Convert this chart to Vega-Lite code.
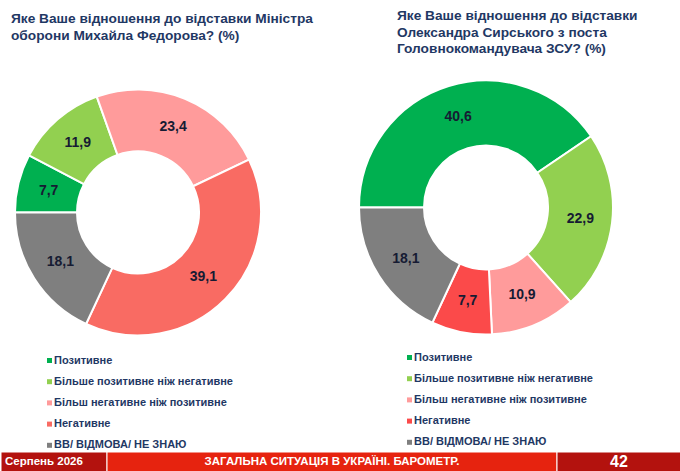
{
  "$schema": "https://vega.github.io/schema/vega-lite/v6.json",
  "padding": {"top": 9, "left": 0, "right": 0, "bottom": 0},
  "background": "white",
  "datasets": {
    "fedorov": [
      {"category": "Позитивне", "value": 7.7, "order": 1},
      {"category": "Більше позитивне ніж негативне", "value": 11.9, "order": 2},
      {"category": "Більш негативне ніж позитивне", "value": 23.4, "order": 3},
      {"category": "Негативне", "value": 39.1, "order": 4},
      {"category": "ВВ/ ВІДМОВА/ НЕ ЗНАЮ", "value": 18.1, "order": 5}
    ],
    "syrskyi": [
      {"category": "Позитивне", "value": 40.6, "order": 1},
      {"category": "Більше позитивне ніж негативне", "value": 22.9, "order": 2},
      {"category": "Більш негативне ніж позитивне", "value": 10.9, "order": 3},
      {"category": "Негативне", "value": 7.7, "order": 4},
      {"category": "ВВ/ ВІДМОВА/ НЕ ЗНАЮ", "value": 18.1, "order": 5}
    ],
    "footer": [
      {"part": "date", "label": "Серпень 2026", "w": 106, "order": 1},
      {"part": "topic", "label": "ЗАГАЛЬНА СИТУАЦІЯ В УКРАЇНІ. БАРОМЕТР.", "w": 450, "order": 2},
      {"part": "page", "label": "42", "w": 124, "order": 3}
    ]
  },
  "vconcat": [
    {
      "hconcat": [
        {
          "title": {
            "text": ["Яке Ваше відношення до відставки Міністра", "оборони Михайла Федорова? (%)"],
            "anchor": "start", "dx": 10, "offset": 18.5
          },
          "width": 274,
          "height": 303,
          "data": {"name": "fedorov"},
          "encoding": {
            "theta": {"field": "value", "type": "quantitative", "stack": true, "scale": {"range": [-1.5708, 4.7124]}},
            "order": {"field": "order", "type": "quantitative"}
          },
          "layer": [
            {
              "mark": {"type": "arc", "innerRadius": 61, "outerRadius": 123, "stroke": "white", "strokeWidth": 2},
              "encoding": {
                "color": {
                  "field": "category", "type": "nominal",
                  "scale": {
                    "domain": ["Позитивне", "Більше позитивне ніж негативне", "Більш негативне ніж позитивне", "Негативне", "ВВ/ ВІДМОВА/ НЕ ЗНАЮ"],
                    "range": ["#00b050", "#92d050", "#ff9b9b", "#f96b63", "#7f7f7f"]
                  },
                  "legend": {"orient": "none", "legendX": 43, "legendY": 294}
                }
              }
            },
            {
              "mark": {"type": "text", "radius": 92, "fontSize": 14, "fontWeight": "bold", "color": "#161b33"},
              "encoding": {"text": {"field": "value", "type": "quantitative", "format": ".1f"}}
            }
          ]
        },
        {
          "title": {
            "text": ["Яке Ваше відношення до відставки", "Олександра Сирського з поста", "Головнокомандувача ЗСУ? (%)"],
            "anchor": "start", "dx": 42, "offset": 5
          },
          "width": 260,
          "height": 293,
          "data": {"name": "syrskyi"},
          "encoding": {
            "theta": {"field": "value", "type": "quantitative", "stack": true, "scale": {"range": [-1.5708, 4.7124]}},
            "order": {"field": "order", "type": "quantitative"}
          },
          "layer": [
            {
              "mark": {"type": "arc", "innerRadius": 62, "outerRadius": 127, "stroke": "white", "strokeWidth": 2},
              "encoding": {
                "color": {
                  "field": "category", "type": "nominal",
                  "scale": {
                    "domain": ["Позитивне", "Більше позитивне ніж негативне", "Більш негативне ніж позитивне", "Негативне", "ВВ/ ВІДМОВА/ НЕ ЗНАЮ"],
                    "range": ["#00b050", "#92d050", "#ff9b9b", "#fb4a4a", "#7f7f7f"]
                  },
                  "legend": {"orient": "none", "legendX": 48, "legendY": 291}
                }
              }
            },
            {
              "mark": {"type": "text", "radius": 95, "fontSize": 14, "fontWeight": "bold", "color": "#161b33"},
              "encoding": {"text": {"field": "value", "type": "quantitative", "format": ".1f"}}
            }
          ]
        }
      ],
      "spacing": 42,
      "resolve": {"scale": {"color": "independent", "theta": "independent"}, "legend": {"color": "independent"}}
    },
    {
      "width": 680,
      "height": 20,
      "data": {"name": "footer"},
      "transform": [
        {"stack": "w", "groupby": [], "sort": [{"field": "order"}], "as": ["x0", "x1"]}
      ],
      "layer": [
        {
          "mark": {"type": "bar", "stroke": "white", "strokeWidth": 1},
          "encoding": {
            "x": {"field": "x0", "type": "quantitative", "scale": {"domain": [0, 680], "nice": false}, "axis": null},
            "x2": {"field": "x1"},
            "y": {"value": 0},
            "y2": {"value": "height"},
            "color": {
              "field": "part", "type": "nominal",
              "scale": {"domain": ["date", "topic", "page"], "range": ["#b3120e", "#e6230f", "#b3120e"]},
              "legend": null
            }
          }
        },
        {
          "mark": {"type": "text", "color": "white", "fontWeight": "bold"},
          "encoding": {
            "x": {"field": "w", "type": "quantitative", "stack": "zero", "bandPosition": 0.5},
            "order": {"field": "order", "type": "quantitative"},
            "y": {"value": 10},
            "text": {"field": "label", "type": "nominal"},
            "size": {"condition": {"test": "datum.part == 'page'", "value": 16}, "value": 11.5},
            "opacity": {"condition": {"test": "datum.part == 'date'", "value": 0}, "value": 1}
          }
        },
        {
          "transform": [{"filter": "datum.part == 'date'"}],
          "mark": {"type": "text", "color": "white", "fontWeight": "bold", "fontSize": 11.5, "align": "left", "dx": 4},
          "encoding": {
            "x": {"field": "x0", "type": "quantitative"},
            "y": {"value": 10},
            "text": {"field": "label", "type": "nominal"}
          }
        }
      ]
    }
  ],
  "spacing": 0,
  "resolve": {"scale": {"color": "independent"}},
  "config": {
    "locale": {"number": {"decimal": ",", "thousands": " ", "grouping": [3], "currency": ["", ""]}},
    "view": {"stroke": null},
    "title": {"font": "Liberation Sans, Arial, sans-serif", "fontSize": 13.7, "fontWeight": "bold", "color": "#1f3864", "lineHeight": 16.5},
    "text": {"font": "Liberation Sans, Arial, sans-serif"},
    "legend": {
      "title": null,
      "symbolType": "square",
      "symbolSize": 25,
      "symbolStrokeWidth": 0,
      "labelFont": "Liberation Sans, Arial, sans-serif",
      "labelFontSize": 11,
      "labelFontWeight": "bold",
      "labelColor": "#1f3864",
      "labelOffset": -1,
      "rowPadding": 9.2,
      "padding": 0,
      "labelLimit": 300
    }
  }
}
